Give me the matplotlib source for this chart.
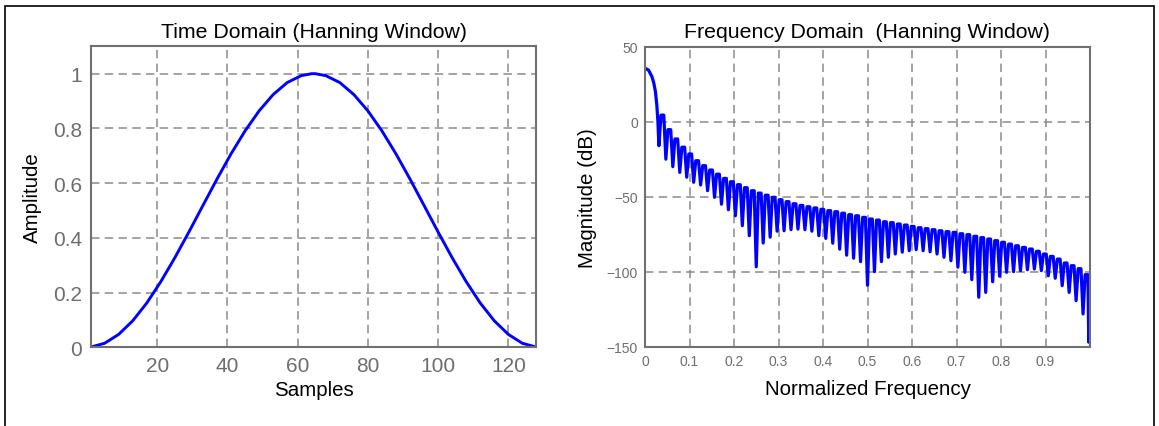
import numpy as np
import matplotlib
matplotlib.use("Agg")
from matplotlib import pyplot as plt
from matplotlib.patches import Rectangle

plt.rcParams['font.family'] = ['Liberation Sans', 'DejaVu Sans']

# time domain: window amplitude read at a subset of samples
samples = [1, 5, 9, 13, 17, 21, 25, 29, 33, 37, 41, 45, 49, 53, 57, 61, 64,
           65, 68, 72, 76, 80, 84, 88, 92, 96, 100, 104, 108, 112, 116, 120, 124, 128]
amplitude = [0.0006, 0.0147, 0.0473, 0.0969, 0.1618, 0.2399, 0.3274, 0.4212,
             0.5183, 0.6147, 0.7067, 0.7907, 0.8639, 0.9235, 0.9674, 0.9928, 0.9999,
             0.9999, 0.9928, 0.9674, 0.9235, 0.8639, 0.7907, 0.7067, 0.6147,
             0.5183, 0.4212, 0.3274, 0.2399, 0.1618, 0.0969, 0.0473, 0.0147, 0.0006]

# frequency domain: main lobe
main_freq = [0.0, 0.008, 0.0156, 0.020, 0.0234, 0.0266, 0.029]
main_db = [35.6, 34.4, 30.0, 25.5, 20.0, 11.0, 0.0]

# nulls at bins 2..63 (of 64) and side lobe tops between them
null_db = [-16, -25, -30, -33.8, -37, -40.4, -42.2, -46, -50.4, -55, -58.7, -62.7,
           -69.3, -76, -96.7, -80.9, -77, -73, -72.7, -72, -71.6, -72, -73, -76,
           -77.8, -81, -85, -89, -91, -93.3, -109, -100, -93.3, -90.4, -88.2, -87,
           -86, -85.3, -86, -86.7, -88.2, -90.4, -92.7, -97, -100.4, -105.3, -117,
           -113.8, -106.7, -103, -100.4, -100, -99.3, -98.7, -98.2, -99.3, -102.7,
           -104.4, -109.3, -113.8, -119.3, -128.2]
peak_db = [4.4, -5.3, -11.5, -17, -21.5, -26, -29.3, -32.2, -35, -37.8, -40, -42,
           -44, -46, -47.6, -49, -50.4, -52, -53.3, -54.7, -55.8, -56.7, -57.5,
           -58.4, -59.3, -60, -61, -62, -62.7, -63.8, -64.9, -65.6, -66.7, -67.3,
           -68.2, -68.9, -69.8, -70.7, -71.3, -72, -72.7, -73.3, -73.8, -74.7,
           -75.3, -76.4, -77.3, -78.2, -79.3, -80.4, -81.6, -82.7, -83.8, -84.9,
           -86.4, -88.2, -89.8, -91.6, -94.2, -96, -98, -102]
# last dip near nyquist and value at the edge
tail_freq = [0.9972, 0.9985, 1.0]
tail_db = [-147, -120, -120]

null_freq = np.arange(2, 64) / 64.0
bin_w = 1 / 64.0

freq = list(main_freq)
mag = list(main_db)
for i in range(len(null_db)):
    # sharp null, rounded top spanning the middle of the lobe
    freq += [null_freq[i], null_freq[i] + 0.3 * bin_w, null_freq[i] + 0.7 * bin_w]
    mag += [null_db[i], peak_db[i], peak_db[i]]
freq += tail_freq
mag += tail_db

fig = plt.figure(figsize=(11.59, 4.27), dpi=100)
W, H = 1159.0, 427.0

fig.patches.append(Rectangle((5 / W, -0.05), 1149 / W, 1.05 - 7 / H,
                             transform=fig.transFigure, fill=False,
                             edgecolor='black', linewidth=1.2))

gridkw = dict(color='#8a8a8a', linestyle=(0, (5.5, 3.5)), linewidth=1.1)
spine_col = '#707070'

ax1 = fig.add_axes([90.6 / W, 1 - 348.3 / H, 445.8 / W, 301 / H])
ax1.plot(samples, amplitude, color='blue', linewidth=2.1)
ax1.set_xlim(1, 128)
ax1.set_ylim(0, 1.1)
ax1.set_xticks([20, 40, 60, 80, 100, 120])
ax1.set_yticks([0, 0.2, 0.4, 0.6, 0.8, 1])
ax1.set_yticklabels(['0', '0.2', '0.4', '0.6', '0.8', '1'])
ax1.tick_params(labelsize=15, labelcolor='#6e6e6e', length=0, pad=6)
ax1.grid(True, **gridkw)
ax1.set_title("Time Domain (Hanning Window)", fontsize=15.3, pad=7)
ax1.set_xlabel("Samples", fontsize=14.8, labelpad=4)
ax1.set_ylabel("Amplitude", fontsize=14.8, labelpad=8)

ax2 = fig.add_axes([645 / W, 1 - 347.7 / H, 445 / W, 300 / H])
ax2.plot(freq, mag, color='blue', linewidth=2.3, solid_joinstyle='round')
ax2.set_xlim(0, 1.0)
ax2.set_ylim(-150, 50)
ax2.set_xticks([0, 0.1, 0.2, 0.3, 0.4, 0.5, 0.6, 0.7, 0.8, 0.9])
ax2.set_xticklabels(['0', '0.1', '0.2', '0.3', '0.4', '0.5', '0.6', '0.7', '0.8', '0.9'])
ax2.set_yticks([-150, -100, -50, 0, 50])
ax2.tick_params(labelsize=10, labelcolor='#6e6e6e', length=0, pad=5)
ax2.grid(True, **gridkw)
ax2.set_title("Frequency Domain  (Hanning Window)", fontsize=15.3, pad=7)
ax2.set_xlabel("Normalized Frequency", fontsize=14.8, labelpad=8)
ax2.set_ylabel("Magnitude (dB)", fontsize=14.8, labelpad=7)

for ax in (ax1, ax2):
    for s in ax.spines.values():
        s.set_color(spine_col)
        s.set_linewidth(1.5)
    ax.set_axisbelow(True)

fig.savefig("out.png", dpi=100)
